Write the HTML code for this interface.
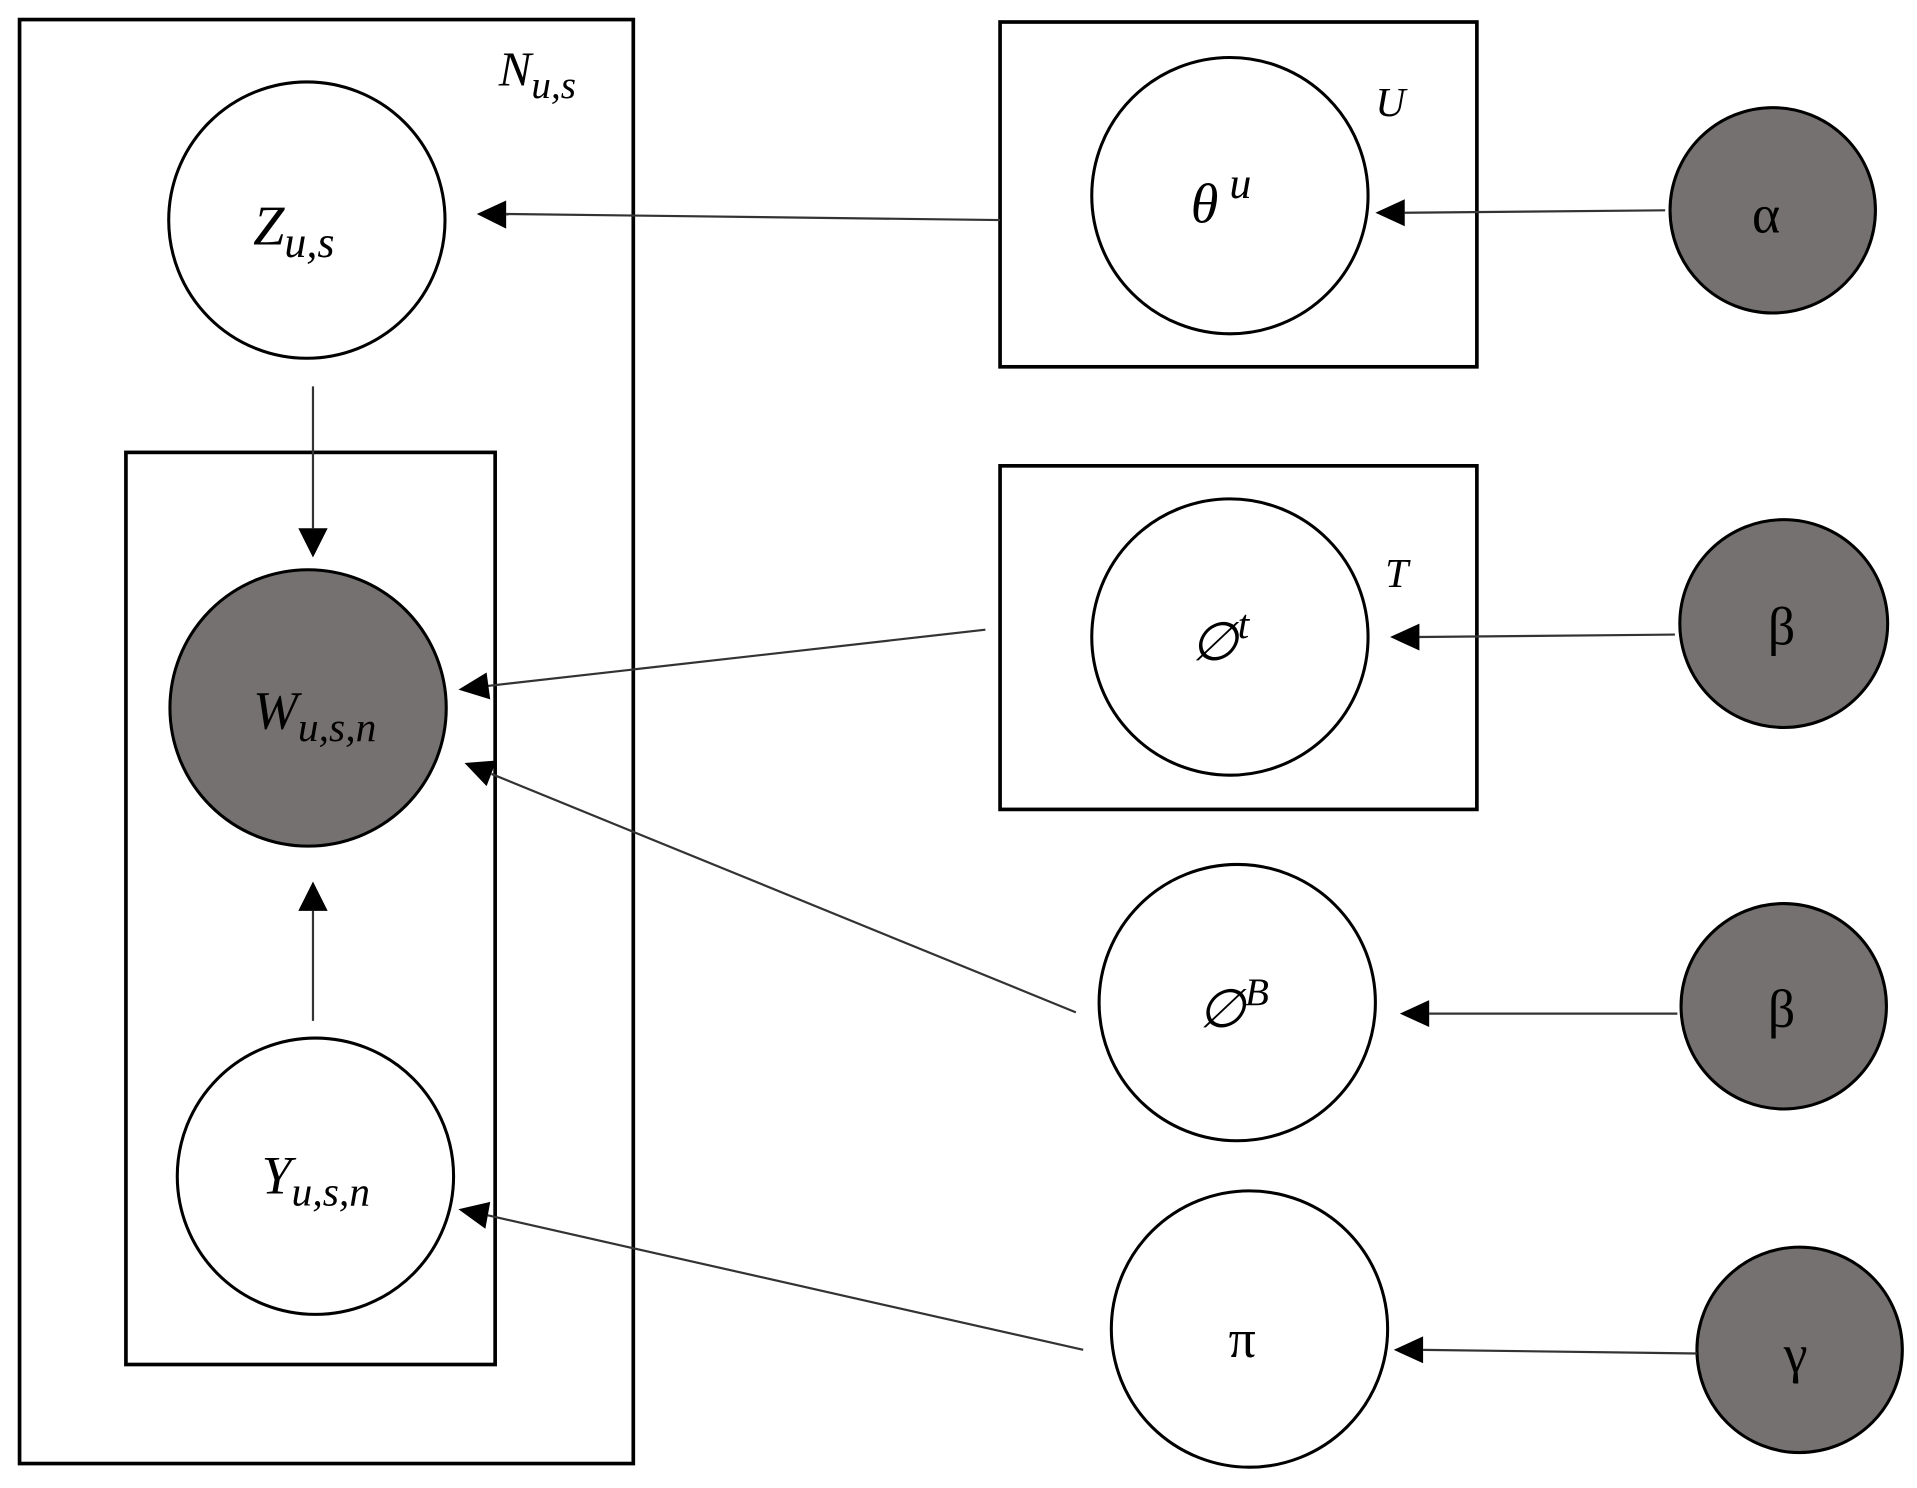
<!DOCTYPE html>
<html><head><meta charset="utf-8"><style>
html,body{margin:0;padding:0;background:#fff;}
svg{display:block;}
text{font-family:"Liberation Serif",serif;font-style:italic;fill:#000;}
</style></head><body>
<svg width="1917" height="1488" viewBox="0 0 1568 1217" preserveAspectRatio="none" xmlns="http://www.w3.org/2000/svg">
<g fill="none" stroke="#000" stroke-width="3">
<rect x="16" y="16" width="502" height="1181"/>
<rect x="103" y="370" width="302" height="746"/>
<rect x="818" y="18" width="390" height="282"/>
<rect x="818" y="381" width="390" height="281"/>
</g>
<g stroke="#000" stroke-width="2.5">
<circle cx="251" cy="180" r="113" fill="#fff"/>
<circle cx="252" cy="579" r="113" fill="#757170"/>
<circle cx="258" cy="962" r="113" fill="#fff"/>
<circle cx="1006" cy="160" r="113" fill="#fff"/>
<circle cx="1006" cy="521" r="113" fill="#fff"/>
<circle cx="1012" cy="820" r="113" fill="#fff"/>
<circle cx="1022" cy="1087" r="113" fill="#fff"/>
<circle cx="1450" cy="172" r="84" fill="#757170"/>
<circle cx="1459" cy="510" r="85" fill="#757170"/>
<circle cx="1459" cy="823" r="84" fill="#757170"/>
<circle cx="1472" cy="1104" r="84" fill="#757170"/>
</g>
<g stroke="#333" stroke-width="1.8" fill="none">
<path d="M818 180 L414 175"/>
<path d="M256 316 L256 432"/>
<path d="M256 835 L256 745"/>
<path d="M1362 172 L1149 174"/>
<path d="M1370 519 L1161 521"/>
<path d="M1372 829 L1169 829"/>
<path d="M1388 1107 L1164 1104"/>
<path d="M806 515 L399 561"/>
<path d="M880 828 L402 633"/>
<path d="M886 1104 L399 994"/>
</g>
<g fill="#000">
<path d="M390 175 L414 164 L414 187 z"/>
<path d="M256 456 L244 432 L268 432 z"/>
<path d="M256 721 L244 745 L268 745 z"/>
<path d="M1125 174 L1149 163 L1149 185 z"/>
<path d="M1137 521 L1161 510 L1161 532 z"/>
<path d="M1145 829 L1169 818 L1169 840 z"/>
<path d="M1140 1104 L1164 1093 L1164 1115 z"/>
<path d="M375 564 L398 550 L401 572 z"/>
<path d="M380 624 L406 622 L398 643 z"/>
<path d="M375 989 L401 983 L397 1005 z"/>
</g>
<text x="408" y="70" font-size="40">N<tspan font-size="32" dy="10">u,s</tspan></text>
<text x="207" y="200" font-size="46">Z<tspan font-size="36" dy="10">u,s</tspan></text>
<text x="207" y="596" font-size="44">W<tspan font-size="34" dy="10">u,s,n</tspan></text>
<text x="214" y="976" font-size="44">Y<tspan font-size="34" dy="10">u,s,n</tspan></text>
<text x="974" y="182" font-size="46">θ<tspan font-size="36" dy="-20"> u</tspan></text>
<text x="1125" y="95" font-size="34">U</text>
<text x="974" y="540" font-size="44">∅<tspan font-size="34" dy="-18">t</tspan></text>
<text x="1133" y="480" font-size="34">T</text>
<text x="980" y="840" font-size="44">∅<tspan font-size="32" dy="-18">B</tspan></text>
<text x="1005" y="1110" font-size="44" style="font-style:normal">π</text>
<text x="1433" y="190" font-size="44" style="font-style:normal">α</text>
<text x="1446" y="527" font-size="44" style="font-style:normal">β</text>
<text x="1446" y="840" font-size="44" style="font-style:normal">β</text>
<text x="1459" y="1122" font-size="44" style="font-style:normal">γ</text>
</svg>
</body></html>
